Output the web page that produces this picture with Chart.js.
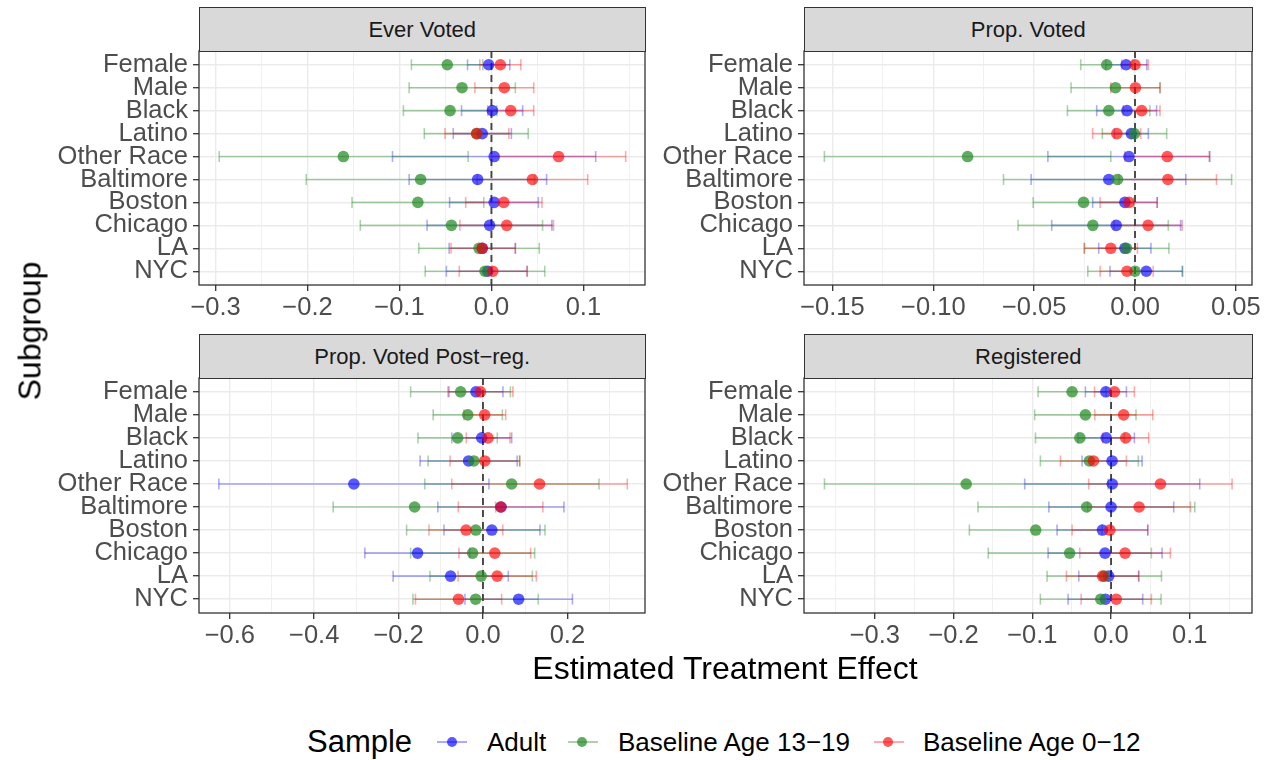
<!DOCTYPE html>
<html>
<head>
<meta charset="utf-8">
<script src="https://cdn.jsdelivr.net/npm/chart.js@4.4.0/dist/chart.umd.min.js"></script>
<style>
  body { margin:0; width:1270px; height:760px; overflow:hidden; background:#fff; position:relative;
         font-family:"Liberation Sans", Arial, sans-serif; }
  canvas { position:absolute; }
  .strip { position:absolute; background:#D9D9D9; border:1.3px solid #333; box-sizing:border-box;
           font-size:22px; color:#1A1A1A; display:flex; align-items:center; justify-content:center; }
  .txt { position:absolute; white-space:nowrap; color:#000; }
  .key-line { position:absolute; height:2px; }
  .key-dot { position:absolute; width:10px; height:10px; border-radius:50%; }
</style>
</head>
<body>
<script>
// ---------------- data ----------------
const categories = ['Female','Male','Black','Latino','Other Race','Baltimore','Boston','Chicago','LA','NYC'];
const sampleNames = ['Adult','Baseline Age 13\u221219','Baseline Age 0\u221212'];
const panelTitles = ['Ever Voted','Prop. Voted','Prop. Voted Post\u2212reg.','Registered'];

// Ever Voted
const everAdultEst = [-0.003, null, 0.001, -0.010, 0.003, -0.015, 0.003, -0.002, -0.010, -0.004];
const everAdultLo  = [-0.026, null, -0.0325, -0.0415, -0.1076, -0.0895, -0.0455, -0.070, -0.046, -0.049];
const everAdultHi  = [0.020, null, 0.034, 0.0217, 0.1134, 0.060, 0.051, 0.0657, 0.026, 0.039];
const everTeenEst  = [-0.048, -0.032, -0.045, -0.016, -0.161, -0.077, -0.080, -0.0435, -0.0135, -0.007];
const everTeenLo   = [-0.087, -0.0895, -0.0957, -0.073, -0.296, -0.2014, -0.1516, -0.1426, -0.079, -0.072];
const everTeenHi   = [-0.0094, 0.026, 0.006, 0.040, -0.0253, 0.047, -0.0083, 0.0556, 0.052, 0.058];
const everChildEst = [0.0097, 0.014, 0.021, -0.016, 0.073, 0.0446, 0.0134, 0.0166, -0.010, 0.0015];
const everChildLo  = [-0.0126, -0.018, -0.004, -0.0505, 0.0, -0.0155, -0.028, -0.0343, -0.044, -0.035];
const everChildHi  = [0.032, 0.046, 0.046, 0.019, 0.146, 0.1047, 0.055, 0.0675, 0.026, 0.0386];

// Prop. Voted
const propAdultEst = [-0.0044, null, -0.004, -0.0018, -0.003, -0.013, -0.005, -0.0093, -0.005, 0.0056];
const propAdultLo  = [-0.0145, null, -0.019, -0.0102, -0.0432, -0.0515, -0.021, -0.0413, -0.018, -0.0124];
const propAdultHi  = [0.0058, null, 0.0107, 0.0066, 0.0371, 0.0252, 0.011, 0.0226, 0.0079, 0.0236];
const propTeenEst  = [-0.014, -0.0097, -0.013, -0.0003, -0.083, -0.0087, -0.0255, -0.0209, -0.0042, 0.0];
const propTeenLo   = [-0.0269, -0.0317, -0.0335, -0.0162, -0.154, -0.0652, -0.0505, -0.058, -0.0252, -0.0234];
const propTeenHi   = [-0.0011, 0.0124, 0.0074, 0.0157, -0.012, 0.0479, -0.0005, 0.0165, 0.0168, 0.0234];
const propChildEst = [0.0, 0.0002, 0.0033, -0.009, 0.016, 0.0163, -0.003, 0.0065, -0.012, -0.004];
const propChildLo  = [-0.0066, -0.012, -0.0058, -0.021, -0.005, -0.0079, -0.0173, -0.0104, -0.025, -0.0173];
const propChildHi  = [0.0066, 0.0124, 0.0124, 0.0028, 0.0368, 0.0404, 0.011, 0.0234, 0.0012, 0.009];

// Prop. Voted Post-reg.
const postAdultEst = [-0.0166, null, -0.003, -0.034, -0.306, 0.043, 0.021, -0.155, -0.0767, 0.0845];
const postAdultLo  = [-0.0806, null, -0.074, -0.149, -0.626, -0.107, -0.0925, -0.280, -0.213, -0.0427];
const postAdultHi  = [0.0474, null, 0.068, 0.081, 0.0142, 0.192, 0.135, -0.031, 0.060, 0.212];
const postTeenEst  = [-0.053, -0.036, -0.060, -0.0217, 0.068, -0.162, -0.017, -0.0245, -0.0043, -0.0174];
const postTeenLo   = [-0.1715, -0.118, -0.154, -0.130, -0.138, -0.355, -0.181, -0.1715, -0.1257, -0.166];
const postTeenHi   = [0.065, 0.046, 0.034, 0.087, 0.275, 0.030, 0.147, 0.1225, 0.117, 0.131];
const postChildEst = [-0.006, 0.004, 0.012, 0.0043, 0.134, 0.042, -0.040, 0.028, 0.0337, -0.058];
const postChildLo  = [-0.083, -0.045, -0.0395, -0.078, -0.074, -0.0585, -0.128, -0.057, -0.059, -0.16];
const postChildHi  = [0.071, 0.0538, 0.064, 0.087, 0.342, 0.142, 0.047, 0.113, 0.1265, 0.0443];

// Registered
const regAdultEst = [-0.0066, null, -0.0062, 0.0013, 0.0015, 0.0, -0.011, -0.0077, -0.003, -0.0072];
const regAdultLo  = [-0.0326, null, -0.042, -0.0368, -0.1097, -0.079, -0.0686, -0.080, -0.041, -0.0546];
const regAdultHi  = [0.0195, null, 0.0296, 0.0394, 0.1126, 0.0796, 0.0466, 0.0648, 0.0351, 0.0402];
const regTeenEst  = [-0.0495, -0.0326, -0.0396, -0.0275, -0.184, -0.031, -0.0957, -0.0526, -0.0087, -0.0131];
const regTeenLo   = [-0.0927, -0.097, -0.096, -0.0898, -0.364, -0.169, -0.18, -0.156, -0.0813, -0.0898];
const regTeenHi   = [-0.0063, 0.0317, 0.0169, 0.0347, -0.0038, 0.1063, -0.0114, 0.0512, 0.064, 0.0635];
const regChildEst = [0.0043, 0.016, 0.0186, -0.0224, 0.0627, 0.0356, -0.0015, 0.0178, -0.0108, 0.0066];
const regChildLo  = [-0.021, -0.0207, -0.0106, -0.0643, -0.0284, -0.0296, -0.0495, -0.0398, -0.0567, -0.038];
const regChildHi  = [0.0296, 0.053, 0.0478, 0.0195, 0.1537, 0.1008, 0.0466, 0.0754, 0.0351, 0.0512];

// axis ticks
const everTicks = [-0.3, -0.2, -0.1, 0.0, 0.1];
const everMinor = [-0.25, -0.15, -0.05, 0.05, 0.15];
const propTicks = [-0.15, -0.10, -0.05, 0.00, 0.05];
const propMinor = [-0.125, -0.075, -0.025, 0.025];
const postTicks = [-0.6, -0.4, -0.2, 0.0, 0.2];
const postMinor = [-0.5, -0.3, -0.1, 0.1, 0.3];
const regTicks  = [-0.3, -0.2, -0.1, 0.0, 0.1];
const regMinor  = [-0.35, -0.25, -0.15, -0.05, 0.05, 0.15];

const lineColors  = ['rgba(0,0,255,0.33)', 'rgba(34,139,34,0.38)', 'rgba(255,0,0,0.33)'];
const pointColors = ['rgba(0,0,255,0.65)', 'rgba(34,139,34,0.72)', 'rgba(255,0,0,0.65)'];

// ---------------- layout ----------------
const FONT = '"Liberation Sans", Arial, sans-serif';
const PAD_TOP = 25, PAD_RIGHT = 30, XAXIS_H = 40;
const panels = [
  { title: panelTitles[0], left: 0,   plotTop: 51,  plotH: 234, yw: 199, w: 675, min: -0.318, max: 0.167, major: everTicks, minor: everMinor, dec: 1,
    series: [[everAdultEst, everAdultLo, everAdultHi], [everTeenEst, everTeenLo, everTeenHi], [everChildEst, everChildLo, everChildHi]] },
  { title: panelTitles[1], left: 650, plotTop: 51,  plotH: 234, yw: 154, w: 632, min: -0.1641, max: 0.058, major: propTicks, minor: propMinor, dec: 2,
    series: [[propAdultEst, propAdultLo, propAdultHi], [propTeenEst, propTeenLo, propTeenHi], [propChildEst, propChildLo, propChildHi]] },
  { title: panelTitles[2], left: 0,   plotTop: 378, plotH: 235, yw: 199, w: 675, min: -0.673, max: 0.384, major: postTicks, minor: postMinor, dec: 1,
    series: [[postAdultEst, postAdultLo, postAdultHi], [postTeenEst, postTeenLo, postTeenHi], [postChildEst, postChildLo, postChildHi]] },
  { title: panelTitles[3], left: 650, plotTop: 378, plotH: 235, yw: 154, w: 632, min: -0.390, max: 0.179, major: regTicks, minor: regMinor, dec: 1,
    series: [[regAdultEst, regAdultLo, regAdultHi], [regTeenEst, regTeenLo, regTeenHi], [regChildEst, regChildLo, regChildHi]] }
];

function fmt(v, dec) {
  const s = Math.abs(v).toFixed(dec);
  return (v < -1e-9 ? '\u2212' : '') + s;
}
function isMajor(p, v) { return p.major.some(m => Math.abs(m - v) < 1e-9); }

const zeroLine = {
  id: 'zeroLine',
  beforeDatasetsDraw(chart) {
    const {ctx, chartArea, scales} = chart;
    const x = scales.x.getPixelForValue(0);
    ctx.save();
    ctx.strokeStyle = '#454545';
    ctx.lineWidth = 1.9;
    ctx.setLineDash([7, 5]);
    ctx.beginPath();
    ctx.moveTo(x, chartArea.top);
    ctx.lineTo(x, chartArea.bottom);
    ctx.stroke();
    ctx.restore();
  }
};
const panelBorder = {
  id: 'panelBorder',
  afterDraw(chart) {
    const {ctx, chartArea} = chart;
    ctx.save();
    ctx.strokeStyle = '#333';
    ctx.lineWidth = 1.3;
    ctx.strokeRect(chartArea.left, chartArea.top, chartArea.right - chartArea.left, chartArea.bottom - chartArea.top);
    ctx.restore();
  }
};

panels.forEach(p => {
  const top = p.plotTop - PAD_TOP;
  const h = PAD_TOP + p.plotH + XAXIS_H;
  const canvas = document.createElement('canvas');
  canvas.width = p.w; canvas.height = h;
  canvas.style.left = p.left + 'px'; canvas.style.top = top + 'px';
  canvas.style.width = p.w + 'px'; canvas.style.height = h + 'px';
  document.body.appendChild(canvas);

  const datasets = [];
  p.series.forEach((s, k) => {
    const [est, lo, hi] = s;
    const bars = [];
    est.forEach((e, i) => {
      if (e === null) return;
      bars.push({x: lo[i], y: i}, {x: hi[i], y: i}, {x: null, y: null});
    });
    datasets.push({
      type: 'scatter', label: sampleNames[k] + ' CI', data: bars, showLine: true, spanGaps: false,
      borderColor: lineColors[k], borderWidth: 1.6,
      pointStyle: 'line', pointRotation: 90, rotation: 90, pointRadius: 5.5, pointHoverRadius: 5.5,
      pointBorderColor: lineColors[k], pointBorderWidth: 1.6, pointBackgroundColor: lineColors[k],
      order: 13 - k
    });
  });
  p.series.forEach((s, k) => {
    const [est] = s;
    const pts = [];
    est.forEach((e, i) => { if (e !== null) pts.push({x: e, y: i}); });
    datasets.push({
      type: 'scatter', label: sampleNames[k], data: pts,
      pointStyle: 'circle', pointRadius: 5.8, pointHoverRadius: 5.8,
      pointBackgroundColor: pointColors[k], pointBorderWidth: 0, borderWidth: 0,
      order: 3 - k
    });
  });

  new Chart(canvas, {
    type: 'scatter',
    data: { datasets },
    plugins: [zeroLine, panelBorder],
    options: {
      responsive: false, animation: false, devicePixelRatio: 1,
      layout: { padding: { left: 0, right: PAD_RIGHT, top: PAD_TOP, bottom: 0 } },
      plugins: { legend: { display: false }, tooltip: { enabled: false } },
      scales: {
        x: {
          type: 'linear', min: p.min, max: p.max,
          afterBuildTicks: (scale) => {
            scale.ticks = p.major.concat(p.minor).sort((a, b) => a - b).map(v => ({value: v}));
          },
          afterFit: (scale) => { scale.height = XAXIS_H; },
          ticks: {
            autoSkip: false, maxRotation: 0, minRotation: 0, padding: 2,
            color: '#4D4D4D', font: { family: FONT, size: 25.5 },
            callback: (v) => isMajor(p, v) ? fmt(v, p.dec) : ''
          },
          grid: {
            color: '#EBEBEB',
            lineWidth: (ctx) => (ctx.tick && isMajor(p, ctx.tick.value)) ? 1.4 : 0.7,
            tickColor: (ctx) => (ctx.tick && isMajor(p, ctx.tick.value)) ? '#333' : 'rgba(0,0,0,0)',
            tickWidth: 1.3, tickLength: 6, drawTicks: true
          },
          border: { display: false }
        },
        y: {
          type: 'linear', reverse: true, min: -0.6, max: categories.length - 0.4,
          afterBuildTicks: (scale) => { scale.ticks = categories.map((c, i) => ({value: i})); },
          afterFit: (scale) => { scale.width = p.yw; },
          ticks: {
            autoSkip: false, padding: 5, color: '#4D4D4D', font: { family: FONT, size: 25.5 },
            callback: (v) => categories[v] !== undefined ? categories[v] : ''
          },
          grid: { color: '#EBEBEB', lineWidth: 1.4, tickColor: '#333', tickWidth: 1.3, tickLength: 6, drawTicks: true },
          border: { display: false }
        }
      }
    }
  });

  // strip label
  const plotLeft = p.left + p.yw;
  const plotRight = p.left + p.w - PAD_RIGHT;
  const strip = document.createElement('div');
  strip.className = 'strip';
  strip.style.left = plotLeft + 'px';
  strip.style.width = (plotRight - plotLeft + 0.5) + 'px';
  strip.style.top = (p.plotTop - 44) + 'px';
  strip.style.height = '45px';
  strip.textContent = p.title;
  document.body.appendChild(strip);
});

// axis titles
function addText(text, css) {
  const d = document.createElement('div');
  d.className = 'txt';
  d.textContent = text;
  Object.assign(d.style, css);
  document.body.appendChild(d);
  return d;
}
addText('Estimated Treatment Effect', { left: '725px', top: '668px', fontSize: '32px', transform: 'translate(-50%,-50%)' });
addText('Subgroup', { left: '30px', top: '331px', fontSize: '32px', transform: 'translate(-50%,-50%) rotate(-90deg)' });

// legend
addText('Sample', { left: '307px', top: '742px', fontSize: '31px', transform: 'translateY(-50%)' });
const legendKeys = [
  { lineX: 437, dotX: 452, textX: 487 },
  { lineX: 568, dotX: 582, textX: 618 },
  { lineX: 874, dotX: 888, textX: 923 }
];
legendKeys.forEach((k, i) => {
  const ln = document.createElement('div');
  ln.className = 'key-line';
  ln.style.left = k.lineX + 'px'; ln.style.width = '30px'; ln.style.top = '741px';
  ln.style.background = lineColors[i];
  document.body.appendChild(ln);
  const dot = document.createElement('div');
  dot.className = 'key-dot';
  dot.style.left = (k.dotX - 5) + 'px'; dot.style.top = '737px';
  dot.style.background = pointColors[i];
  document.body.appendChild(dot);
  addText(sampleNames[i], { left: k.textX + 'px', top: '742px', fontSize: '26px', transform: 'translateY(-50%)' });
});
</script>
</body>
</html>
